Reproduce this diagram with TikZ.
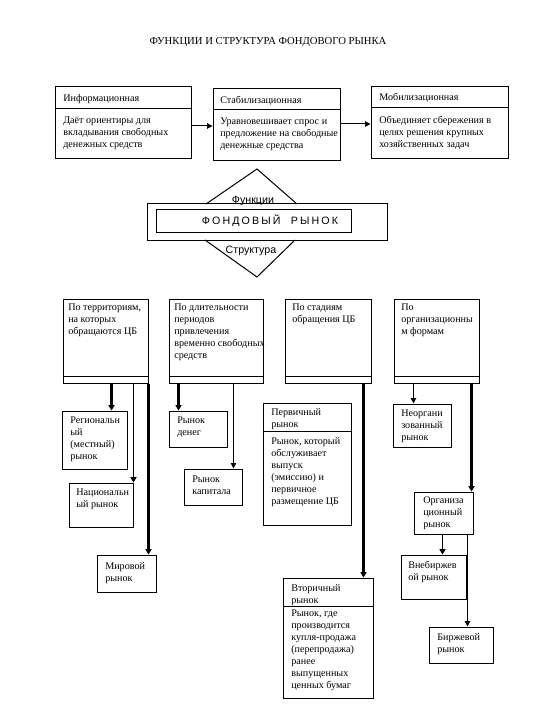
\documentclass[tikz,border=0pt]{standalone}
\usepackage{fontspec}
\setmainfont{Liberation Serif}
\newfontfamily\sansf{Liberation Sans}
\newfontfamily\spacedf[LetterSpace=20]{Liberation Sans}
\usetikzlibrary{fit,calc,arrows.meta}
\begin{document}
\begin{tikzpicture}[x=0.75pt,y=-0.75pt,
  box/.style={draw,line width=0.75pt,inner sep=0pt},
  txt/.style={anchor=north west,align=left,inner sep=0pt,font=\fontsize{7.6}{9}\selectfont},
  lbl/.style={inner sep=0pt,font=\sansf\fontsize{8}{9}\selectfont},
  arr/.style={line width=0.75pt,-{Triangle[length=4pt,width=4pt]}},
  thk/.style={line width=1.6pt,-{Triangle[length=4pt,width=4.5pt]}},
  med/.style={line width=1.1pt,-{Triangle[length=4pt,width=4.5pt]}},
  ln/.style={line width=0.75pt}]
\useasboundingbox (0,0) rectangle (540,720);
\fill[white] (0,0) rectangle (540,720);

% title
\node[inner sep=0pt,font=\fontsize{8}{9}\selectfont] (title) at (268,42) {ФУНКЦИИ И СТРУКТУРА ФОНДОВОГО РЫНКА};

% top boxes
\node[box,fit={(55,87) (191,159)}] (T1) {};
\node[box,fit={(213,89) (340,161)}] (T2) {};
\node[box,fit={(371,87) (508,159)}] (T3) {};
\draw[ln] ($(T1.north west)+(0,22)$) -- ($(T1.north east)+(0,22)$);
\draw[ln] ($(T2.north west)+(0,21)$) -- ($(T2.north east)+(0,21)$);
\draw[ln] ($(T3.north west)+(0,21)$) -- ($(T3.north east)+(0,21)$);
\node[txt] (T1h) at (63,94) {Информационная};
\node[txt] (T1b) at (63,117) {Даёт ориентиры для\\вкладывания свободных\\денежных средств};
\node[txt] (T2h) at (220,96) {Стабилизационная};
\node[txt] (T2b) at (220,118) {Уравновешивает спрос и\\предложение на свободные\\денежные средства};
\node[txt] (T3h) at (379,93) {Мобилизационная};
\node[txt] (T3b) at (379,116) {Объединяет сбережения в\\целях решения крупных\\хозяйственных задач};
\draw[arr] ($(T1.east)+(0,3)$) -- ($(T1.east -| T2.west)+(0,3)$);
\draw[arr] ($(T2.east)+(0,-1)$) -- ($(T2.east -| T3.west)+(0,-1)$);

% central figure
\node[box,fit={(147,204) (387,240)}] (FR) {};
\node[box,fit={(156,210) (351,232)}] (FI) {};
\draw[ln] (206,204) -- (257,169) -- (297,204);
\draw[ln] (205,240) -- (257,277) -- (295,240);
\node[inner sep=0pt,font=\spacedf\fontsize{8}{9}\selectfont] (FN) at (270,221) {ФОНДОВЫЙ\ \ РЫНОК};
\node[lbl] (fun) at (253,201) {Функции};
\node[lbl] (str) at (251,251) {Структура};

% structure boxes
\node[box,fit={(63,299) (148,383)}] (A) {};
\node[box,fit={(169,299) (263,383)}] (B) {};
\node[box,fit={(285,299) (371,383)}] (C) {};
\node[box,fit={(394,299) (479,383)}] (D) {};
\foreach \n in {A,B,C,D}
  \draw[ln] ($(\n.south west)+(0,-7)$) -- ($(\n.south east)+(0,-7)$);
\node[txt] (At) at (68,304) {По территориям,\\на которых\\обращаются ЦБ};
\node[txt] (Bt) at (174,304) {По длительности\\периодов\\привлечения\\временно свободных\\средств};
\node[txt] (Ct) at (292,304) {По стадиям\\обращения ЦБ};
\node[txt] (Dt) at (401,304) {По\\организационны\\м формам};

% A children
\node[box,fit={(62,411) (127,469)}] (R1) {};
\node[box,fit={(69,483) (133,527)}] (R2) {};
\node[box,fit={(97,555) (156,592)}] (R3) {};
\node[txt] at (70,417) {Региональн\\ый\\(местный)\\рынок};
\node[txt] at (76,489) {Национальн\\ый рынок};
\node[txt] at (105,562) {Мировой\\рынок};
\coordinate (a1) at ($(A.south west)+(49,0)$);
\coordinate (a2) at ($(A.south west)+(71,0)$);
\coordinate (a3) at (A.south east);
\draw[thk] (a1) -- (a1 |- R1.north);
\draw[med] (a2) -- (a2 |- R2.north);
\draw[thk] (a3) -- (a3 |- R3.north);

% B children
\node[box,fit={(169,411) (227,447)}] (M1) {};
\node[box,fit={(184,469) (242,505)}] (M2) {};
\node[txt] at (177,417) {Рынок\\денег};
\node[txt] at (192,476) {Рынок\\капитала};
\coordinate (b1) at ($(B.south west)+(10,0)$);
\coordinate (b2) at ($(B.south west)+(65,0)$);
\draw[thk] (b1) -- (b1 |- M1.north);
\draw[arr] (b2) -- (b2 |- M2.north);

% C children
\node[box,fit={(263,403) (351,525)}] (P) {};
\draw[ln] ($(P.north west)+(0,29)$) -- ($(P.north east)+(0,29)$);
\node[txt] at (271,408) {Первичный\\рынок};
\node[txt] at (271,437) {Рынок, который\\обслуживает\\выпуск\\(эмиссию) и\\первичное\\размещение ЦБ};
\node[box,fit={(283,578) (373,698)}] (V) {};
\draw[ln] ($(V.north west)+(0,29)$) -- ($(V.north east)+(0,29)$);
\node[txt] at (291,584) {Вторичный\\рынок};
\node[txt] at (291,610) {Рынок, где\\производится\\купля-продажа\\(перепродажа)\\ранее\\выпущенных\\ценных бумаг};
\coordinate (c1) at ($(C.south west)+(79,0)$);
\draw[thk] (c1) -- (c1 |- V.north);

% D children
\node[box,fit={(393,404) (451,447)}] (N1) {};
\node[box,fit={(414,492) (473,534)}] (N2) {};
\node[box,fit={(401,555) (466,599)}] (N3) {};
\node[box,fit={(429,627) (493,663)}] (N4) {};
\node[txt] at (401,410) {Неоргани\\зованный\\рынок};
\node[txt] at (423,497) {Организа\\ционный\\рынок};
\node[txt] at (408,561) {Внебиржев\\ой рынок};
\node[txt] at (437,633) {Биржевой\\рынок};
\coordinate (d1) at ($(D.south west)+(20,0)$);
\coordinate (d2) at ($(D.south west)+(78,0)$);
\draw[arr] (d1) -- (d1 |- N1.north);
\draw[thk] (d2) -- (d2 |- N2.north);
\coordinate (o1) at ($(N2.south west)+(29,0)$);
\coordinate (o2) at ($(N2.south west)+(54,0)$);
\draw[med] (o1) -- (o1 |- N3.north);
\draw[arr] (o2) -- (o2 |- N4.north);
\end{tikzpicture}
\end{document}
